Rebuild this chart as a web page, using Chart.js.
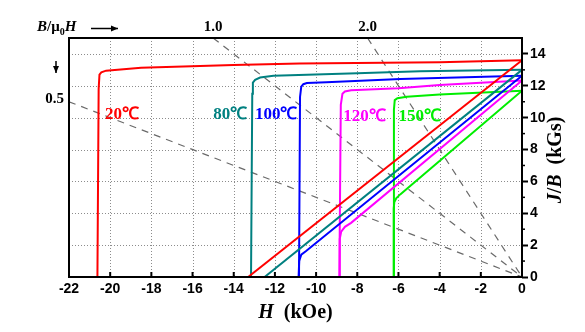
<!DOCTYPE html>
<html>
<head>
<meta charset="utf-8">
<script src="https://cdn.jsdelivr.net/npm/chart.js@4/dist/chart.umd.min.js"></script>
<style>
  html, body { margin: 0; padding: 0; background: #fff; }
</style>
</head>
<body>
<canvas id="demagChart" width="585" height="332"></canvas>
<script>
// temperatures and their colours
const temps = ['20℃', '80℃', '100℃', '120℃', '150℃'];
const colors = ['#ff0000', '#008080', '#0000ff', '#ff00ff', '#00ee00'];

// intrinsic curves J(H), H in kOe, J in kGs
const jH20 = [-20.62, -20.56, -20.52, -20.43, -20.2, -18.5, -14, -10.8, -4, 0];
const jV20 = [0, 11.8, 12.7, 12.84, 12.95, 13.14, 13.3, 13.4, 13.48, 13.6];
const jH80 = [-13.16, -13.1, -13.07, -12.96, -12.72, -12.07, -8, -4.95, 0];
const jV80 = [0, 11.5, 12.2, 12.37, 12.52, 12.63, 12.78, 12.92, 13.0];
const jH100 = [-10.83, -10.78, -10.72, -10.62, -10.45, -9.5, -5.9, 0];
const jV100 = [0, 11.3, 11.95, 12.1, 12.17, 12.22, 12.42, 12.63];
const jH120 = [-8.87, -8.8, -8.72, -8.6, -8.3, -6, -4, 0];
const jV120 = [0, 10.8, 11.5, 11.64, 11.72, 11.85, 12.05, 12.33];
const jH150 = [-6.25, -6.22, -6.18, -6.05, -5.6, -4, 0];
const jV150 = [0, 10.5, 11.1, 11.22, 11.31, 11.46, 11.69];

// normal curves B(H)
const bH20 = [-13.3, 0];
const bV20 = [0, 13.6];
const bH80 = [-12.5, 0];
const bV80 = [0, 13.0];
const bH100 = [-10.85, -10.82, -10.72, -10.5, 0];
const bV100 = [0, 1.0, 1.4, 1.62, 12.63];
const bH120 = [-8.87, -8.85, -8.78, -8.6, -8.3, 0];
const bV120 = [0, 2.4, 2.85, 3.15, 3.4, 12.33];
const bH150 = [-6.25, -6.23, -6.2, -6.1, -5.9, 0];
const bV150 = [0, 4.3, 4.7, 4.95, 5.2, 11.69];

// load lines B/u0H = 0.5, 1.0, 2.0 (end points)
const loadLabels = ['0.5', '1.0', '2.0'];
const loadH = [[-22, 0], [-15, 0], [-7.5, 0]];
const loadB = [[11, 0], [15, 0], [15, 0]];

// where the temperature labels sit (H, J)
const labelH = [-20.25, -15.0, -12.97, -8.68, -6.0];
const labelY = [10.17, 10.17, 10.17, 10.04, 10.04];

const jH = [jH20, jH80, jH100, jH120, jH150];
const jV = [jV20, jV80, jV100, jV120, jV150];
const bH = [bH20, bH80, bH100, bH120, bH150];
const bV = [bV20, bV80, bV100, bV120, bV150];

function pts(hs, vs) {
  return hs.map((h, i) => ({x: h, y: vs[i]}));
}

const datasets = [];
temps.forEach((t, i) => {
  datasets.push({label: 'J ' + t, data: pts(jH[i], jV[i]), borderColor: colors[i], borderWidth: 2, order: 1});
  datasets.push({label: 'B ' + t, data: pts(bH[i], bV[i]), borderColor: colors[i], borderWidth: 2, order: 1});
});
loadLabels.forEach((l, i) => {
  datasets.push({label: 'P ' + l, data: pts(loadH[i], loadB[i]), borderColor: '#6a6a6a', borderWidth: 1.2,
    borderDash: [7, 6], order: 2});
});

const serif = '"Liberation Serif", "Times New Roman", serif';
const sans = '"Liberation Sans", Arial, sans-serif';

// draw a run of text pieces [text, font, dy] starting at x
function drawRun(ctx, parts, x, y) {
  parts.forEach(p => {
    ctx.font = p[1];
    ctx.fillText(p[0], x, y + (p[2] || 0));
    x += ctx.measureText(p[0]).width;
  });
}
function runWidth(ctx, parts) {
  let w = 0;
  parts.forEach(p => { ctx.font = p[1]; w += ctx.measureText(p[0]).width; });
  return w;
}

function arrow(ctx, x1, y1, x2, y2) {
  const a = Math.atan2(y2 - y1, x2 - x1);
  ctx.beginPath();
  ctx.moveTo(x1, y1);
  ctx.lineTo(x2, y2);
  ctx.stroke();
  ctx.beginPath();
  ctx.moveTo(x2, y2);
  ctx.lineTo(x2 - 7 * Math.cos(a) + 3 * Math.sin(a), y2 - 7 * Math.sin(a) - 3 * Math.cos(a));
  ctx.lineTo(x2 - 7 * Math.cos(a) - 3 * Math.sin(a), y2 - 7 * Math.sin(a) + 3 * Math.cos(a));
  ctx.closePath();
  ctx.fill();
}

// dotted grid under the curves
const dotGrid = {
  id: 'dotGrid',
  beforeDatasetsDraw(chart) {
    const ctx = chart.ctx;
    const a = chart.chartArea;
    const xs = chart.scales.x;
    const ys = chart.scales.y;
    ctx.save();
    ctx.strokeStyle = '#8c8c8c';
    ctx.lineWidth = 1;
    ctx.setLineDash([1, 2]);
    xs.ticks.forEach(t => {
      const px = Math.round(xs.getPixelForValue(t.value)) + 0.5;
      ctx.beginPath();
      ctx.moveTo(px, a.top);
      ctx.lineTo(px, a.bottom);
      ctx.stroke();
    });
    ys.ticks.forEach(t => {
      const py = Math.round(ys.getPixelForValue(t.value)) + 0.5;
      ctx.beginPath();
      ctx.moveTo(a.left, py);
      ctx.lineTo(a.right, py);
      ctx.stroke();
    });
    ctx.restore();
  }
};

const decor = {
  id: 'decor',
  afterDraw(chart) {
    const ctx = chart.ctx;
    const a = chart.chartArea;
    const xs = chart.scales.x;
    const ys = chart.scales.y;
    ctx.save();
    ctx.strokeStyle = '#000';
    ctx.fillStyle = '#000';

    // frame
    ctx.lineWidth = 2;
    ctx.strokeRect(a.left, a.top, a.right - a.left, a.bottom - a.top);

    // inward ticks on the bottom axis
    xs.ticks.forEach(t => {
      const px = xs.getPixelForValue(t.value);
      ctx.beginPath();
      ctx.moveTo(px, a.bottom);
      ctx.lineTo(px, a.bottom - 5);
      ctx.stroke();
    });
    // minor ticks on the right axis
    ctx.lineWidth = 1.5;
    for (let v = 1; v < 15; v += 2) {
      const py = ys.getPixelForValue(v);
      ctx.beginPath();
      ctx.moveTo(a.right, py);
      ctx.lineTo(a.right + 3, py);
      ctx.stroke();
    }

    // axis titles
    const big = 20;
    const hParts = [['H', 'italic bold ' + big + 'px ' + serif], ['  (kOe)', 'bold ' + big + 'px ' + serif]];
    ctx.textBaseline = 'alphabetic';
    ctx.textAlign = 'left';
    let w = runWidth(ctx, hParts);
    drawRun(ctx, hParts, (a.left + a.right) / 2 - w / 2, 318);

    const jParts = [['J', 'italic bold ' + big + 'px ' + serif], ['/', 'bold ' + big + 'px ' + serif],
      ['B', 'italic bold ' + big + 'px ' + serif], ['  (kGs)', 'bold ' + big + 'px ' + serif]];
    ctx.save();
    ctx.translate(561, 160);
    ctx.rotate(-Math.PI / 2);
    w = runWidth(ctx, jParts);
    drawRun(ctx, jParts, -w / 2, 0);
    ctx.restore();

    // B/u0H labels along the top and left
    const small = 'bold 15px ' + serif;
    drawRun(ctx, [['B', 'italic ' + small], ['/μ', small], ['0', 'bold 10px ' + serif, 4],
      ['H', 'italic ' + small]], 37, 31);
    ctx.textAlign = 'center';
    ctx.font = small;
    ctx.fillText(loadLabels[1], xs.getPixelForValue(-15), 31);
    ctx.fillText(loadLabels[2], xs.getPixelForValue(-7.5), 31);
    ctx.textAlign = 'right';
    ctx.fillText(loadLabels[0], 64, 103);
    ctx.lineWidth = 1.5;
    arrow(ctx, 91, 28.5, 118, 28.5);
    arrow(ctx, 56, 61, 56, 73);

    // temperature labels
    ctx.textAlign = 'left';
    ctx.textBaseline = 'middle';
    ctx.font = 'bold 17px ' + serif;
    temps.forEach((t, i) => {
      ctx.fillStyle = colors[i];
      ctx.fillText(t, xs.getPixelForValue(labelH[i]), ys.getPixelForValue(labelY[i]));
    });
    ctx.restore();
  }
};

new Chart(document.getElementById('demagChart'), {
  type: 'line',
  data: {datasets: datasets},
  options: {
    responsive: false,
    animation: false,
    layout: {padding: {left: 69, top: 38, right: 0, bottom: 0}},
    elements: {point: {radius: 0}, line: {tension: 0, fill: false}},
    plugins: {legend: {display: false}, tooltip: {enabled: false}},
    scales: {
      x: {
        type: 'linear',
        min: -22,
        max: 0,
        afterFit: s => { s.height = 55; },
        border: {display: false},
        grid: {drawOnChartArea: false, drawTicks: false},
        ticks: {stepSize: 2, padding: 4, color: '#000', font: {family: sans, size: 14, weight: 'bold'}}
      },
      y: {
        type: 'linear',
        position: 'right',
        min: 0,
        max: 15,
        afterFit: s => { s.width = 63; },
        border: {display: false},
        grid: {drawOnChartArea: false, tickColor: '#000', tickWidth: 2, tickLength: 6},
        ticks: {stepSize: 2, includeBounds: false, padding: 2, color: '#000',
          font: {family: sans, size: 14, weight: 'bold'}}
      }
    }
  },
  plugins: [dotGrid, decor]
});
</script>
</body>
</html>
